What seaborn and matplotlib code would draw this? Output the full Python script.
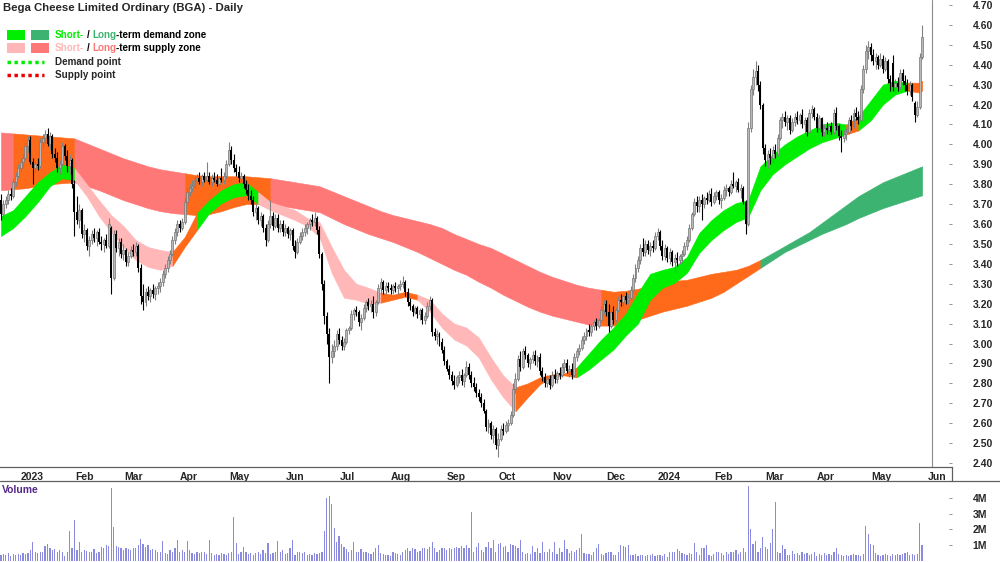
import numpy as np
import pandas as pd
import matplotlib.pyplot as plt
import seaborn as sns
from matplotlib.lines import Line2D
from matplotlib.patches import Rectangle
from matplotlib.transforms import ScaledTranslation

# ------------------------------------------------------------
# Daily candles, one list per month: (open, high, low, close)
# ------------------------------------------------------------
dec22 = [(3.72, 3.75, 3.62, 3.65), (3.65, 3.72, 3.63, 3.70), (3.70, 3.74, 3.68, 3.72), (3.72, 3.77, 3.70, 3.75),
         (3.75, 3.78, 3.72, 3.74), (3.74, 3.83, 3.73, 3.81), (3.81, 3.86, 3.79, 3.84)]
jan23 = [(3.84, 3.90, 3.83, 3.88), (3.88, 3.93, 3.86, 3.91), (3.91, 3.95, 3.88, 3.93), (3.93, 4.01, 3.92, 3.99),
         (3.99, 4.04, 3.96, 4.02), (4.02, 4.04, 3.90, 3.91), (3.91, 3.93, 3.80, 3.88), (3.88, 3.92, 3.86, 3.90),
         (3.90, 3.93, 3.87, 3.89), (3.89, 4.03, 3.88, 4.01), (4.01, 4.05, 3.98, 4.03), (4.03, 4.07, 4.00, 4.05),
         (4.05, 4.08, 3.99, 4.00), (4.00, 4.06, 3.97, 4.04), (4.04, 4.05, 3.93, 3.95), (3.95, 3.98, 3.91, 3.93),
         (3.93, 3.96, 3.86, 3.88), (3.88, 3.92, 3.85, 3.90), (3.90, 4.01, 3.89, 3.99), (3.99, 4.00, 3.92, 3.94),
         (3.94, 3.97, 3.86, 3.89), (3.89, 3.95, 3.85, 3.92)]
feb23 = [(3.92, 3.93, 3.78, 3.80), (3.80, 3.82, 3.54, 3.66), (3.66, 3.74, 3.60, 3.62), (3.62, 3.70, 3.58, 3.67),
         (3.67, 3.68, 3.53, 3.55), (3.55, 3.60, 3.51, 3.57), (3.57, 3.58, 3.47, 3.49), (3.49, 3.54, 3.44, 3.52),
         (3.52, 3.57, 3.50, 3.55), (3.55, 3.58, 3.51, 3.53), (3.53, 3.57, 3.49, 3.56), (3.56, 3.58, 3.50, 3.51),
         (3.51, 3.54, 3.47, 3.50), (3.50, 3.53, 3.46, 3.52), (3.52, 3.55, 3.48, 3.49), (3.49, 3.63, 3.48, 3.60),
         (3.58, 3.59, 3.25, 3.33), (3.33, 3.57, 3.32, 3.55), (3.55, 3.57, 3.46, 3.48), (3.48, 3.53, 3.44, 3.51)]
mar23 = [(3.51, 3.53, 3.43, 3.45), (3.45, 3.50, 3.42, 3.47), (3.47, 3.48, 3.39, 3.41), (3.41, 3.46, 3.39, 3.44),
         (3.44, 3.49, 3.43, 3.47), (3.47, 3.50, 3.44, 3.46), (3.46, 3.51, 3.44, 3.49), (3.49, 3.50, 3.36, 3.38),
         (3.38, 3.40, 3.20, 3.24), (3.24, 3.30, 3.17, 3.21), (3.21, 3.28, 3.19, 3.26), (3.26, 3.29, 3.22, 3.24),
         (3.24, 3.28, 3.21, 3.27), (3.27, 3.30, 3.23, 3.25), (3.25, 3.29, 3.22, 3.28), (3.28, 3.31, 3.25, 3.29),
         (3.29, 3.33, 3.26, 3.31), (3.31, 3.37, 3.29, 3.35), (3.35, 3.40, 3.33, 3.38), (3.38, 3.44, 3.36, 3.42),
         (3.42, 3.47, 3.40, 3.45), (3.45, 3.54, 3.44, 3.52), (3.52, 3.58, 3.50, 3.56)]
apr23 = [(3.56, 3.62, 3.54, 3.60), (3.60, 3.62, 3.56, 3.58), (3.58, 3.63, 3.57, 3.61), (3.61, 3.73, 3.60, 3.71),
         (3.71, 3.78, 3.70, 3.76), (3.76, 3.80, 3.74, 3.78), (3.78, 3.82, 3.76, 3.79), (3.79, 3.84, 3.78, 3.82),
         (3.82, 3.85, 3.80, 3.83), (3.83, 3.86, 3.80, 3.81), (3.81, 3.85, 3.79, 3.84), (3.84, 3.86, 3.81, 3.82),
         (3.82, 3.91, 3.81, 3.84), (3.84, 3.86, 3.80, 3.81), (3.81, 3.85, 3.79, 3.83), (3.83, 3.86, 3.81, 3.82),
         (3.82, 3.85, 3.79, 3.80), (3.80, 3.84, 3.78, 3.83), (3.83, 3.88, 3.81, 3.82), (3.82, 3.86, 3.80, 3.84)]
may23 = [(3.84, 3.92, 3.83, 3.90), (3.90, 4.01, 3.89, 3.97), (3.97, 3.99, 3.90, 3.92), (3.92, 3.95, 3.86, 3.88),
         (3.88, 3.90, 3.84, 3.86), (3.86, 3.89, 3.81, 3.83), (3.83, 3.86, 3.80, 3.84), (3.84, 3.85, 3.78, 3.80),
         (3.80, 3.82, 3.75, 3.77), (3.77, 3.80, 3.72, 3.74), (3.74, 3.77, 3.70, 3.72), (3.72, 3.74, 3.64, 3.66),
         (3.66, 3.70, 3.62, 3.68), (3.68, 3.69, 3.60, 3.62), (3.62, 3.66, 3.59, 3.64), (3.64, 3.65, 3.56, 3.58),
         (3.58, 3.60, 3.49, 3.52), (3.52, 3.62, 3.51, 3.60), (3.60, 3.72, 3.58, 3.64), (3.64, 3.66, 3.57, 3.59),
         (3.59, 3.65, 3.58, 3.63), (3.63, 3.65, 3.56, 3.58), (3.58, 3.62, 3.56, 3.60)]
jun23 = [(3.60, 3.62, 3.54, 3.56), (3.56, 3.60, 3.54, 3.58), (3.58, 3.59, 3.53, 3.55), (3.55, 3.58, 3.52, 3.57),
         (3.57, 3.58, 3.47, 3.49), (3.49, 3.52, 3.43, 3.46), (3.46, 3.53, 3.45, 3.51), (3.51, 3.56, 3.50, 3.54),
         (3.54, 3.58, 3.52, 3.56), (3.56, 3.60, 3.54, 3.58), (3.58, 3.61, 3.55, 3.60), (3.60, 3.63, 3.57, 3.62),
         (3.62, 3.65, 3.59, 3.61), (3.61, 3.66, 3.59, 3.63), (3.63, 3.64, 3.55, 3.57), (3.57, 3.59, 3.43, 3.45),
         (3.45, 3.46, 3.27, 3.30), (3.30, 3.32, 3.10, 3.14), (3.14, 3.16, 3.00, 3.05), (3.05, 3.08, 2.80, 2.93),
         (2.93, 3.00, 2.90, 2.96), (2.96, 3.02, 2.93, 2.99)]
jul23 = [(2.99, 3.07, 2.97, 3.05), (3.05, 3.08, 3.00, 3.02), (3.02, 3.04, 2.97, 2.99), (2.99, 3.03, 2.97, 3.01),
         (3.01, 3.08, 3.00, 3.07), (3.07, 3.09, 3.05, 3.08), (3.08, 3.17, 3.07, 3.15), (3.15, 3.18, 3.12, 3.17),
         (3.17, 3.19, 3.14, 3.16), (3.16, 3.17, 3.09, 3.11), (3.11, 3.15, 3.07, 3.13), (3.13, 3.20, 3.12, 3.18),
         (3.18, 3.22, 3.16, 3.21), (3.21, 3.23, 3.17, 3.19), (3.19, 3.22, 3.16, 3.20), (3.20, 3.24, 3.13, 3.16),
         (3.16, 3.22, 3.14, 3.21), (3.21, 3.30, 3.20, 3.28), (3.28, 3.33, 3.25, 3.31), (3.31, 3.32, 3.25, 3.27),
         (3.27, 3.31, 3.25, 3.29)]
aug23 = [(3.29, 3.31, 3.26, 3.28), (3.28, 3.30, 3.25, 3.27), (3.27, 3.30, 3.25, 3.29), (3.29, 3.31, 3.26, 3.28),
         (3.28, 3.30, 3.25, 3.29), (3.29, 3.32, 3.27, 3.30), (3.30, 3.34, 3.28, 3.31), (3.31, 3.32, 3.24, 3.26),
         (3.26, 3.28, 3.19, 3.21), (3.21, 3.23, 3.17, 3.19), (3.19, 3.20, 3.14, 3.16), (3.16, 3.19, 3.15, 3.18),
         (3.18, 3.19, 3.13, 3.15), (3.15, 3.18, 3.12, 3.17), (3.17, 3.18, 3.10, 3.12), (3.12, 3.16, 3.10, 3.14),
         (3.14, 3.21, 3.13, 3.19), (3.19, 3.24, 3.17, 3.22), (3.22, 3.23, 3.04, 3.06), (3.06, 3.08, 3.02, 3.04),
         (3.04, 3.07, 3.00, 3.05), (3.05, 3.06, 2.99, 3.01), (3.01, 3.03, 2.95, 2.97)]
sep23 = [(2.97, 2.99, 2.89, 2.91), (2.91, 2.92, 2.86, 2.87), (2.87, 2.89, 2.82, 2.84), (2.84, 2.86, 2.79, 2.81),
         (2.81, 2.84, 2.77, 2.79), (2.79, 2.84, 2.78, 2.83), (2.83, 2.86, 2.80, 2.84), (2.84, 2.87, 2.79, 2.81),
         (2.81, 2.85, 2.78, 2.84), (2.84, 2.91, 2.83, 2.88), (2.88, 2.90, 2.82, 2.84), (2.84, 2.86, 2.78, 2.80),
         (2.80, 2.83, 2.76, 2.78), (2.78, 2.80, 2.73, 2.75), (2.75, 2.77, 2.71, 2.73), (2.73, 2.75, 2.68, 2.70),
         (2.70, 2.72, 2.65, 2.66), (2.66, 2.67, 2.56, 2.58), (2.58, 2.62, 2.55, 2.60), (2.60, 2.61, 2.52, 2.54),
         (2.54, 2.59, 2.50, 2.57)]
oct23 = [(2.57, 2.58, 2.47, 2.49), (2.49, 2.55, 2.43, 2.52), (2.52, 2.59, 2.51, 2.57), (2.57, 2.60, 2.54, 2.56),
         (2.56, 2.61, 2.55, 2.59), (2.59, 2.62, 2.56, 2.60), (2.60, 2.66, 2.59, 2.64), (2.64, 2.80, 2.63, 2.77),
         (2.77, 2.85, 2.75, 2.82), (2.82, 2.94, 2.81, 2.92), (2.92, 2.96, 2.86, 2.88), (2.88, 2.98, 2.87, 2.96),
         (2.96, 2.99, 2.92, 2.94), (2.94, 2.95, 2.88, 2.90), (2.90, 2.93, 2.87, 2.92), (2.92, 2.96, 2.90, 2.94),
         (2.94, 2.97, 2.89, 2.91), (2.91, 2.94, 2.88, 2.93), (2.93, 2.95, 2.84, 2.86), (2.86, 2.88, 2.81, 2.83),
         (2.83, 2.85, 2.78, 2.80), (2.80, 2.84, 2.78, 2.82)]
nov23 = [(2.82, 2.84, 2.77, 2.79), (2.79, 2.86, 2.78, 2.84), (2.84, 2.87, 2.80, 2.82), (2.82, 2.86, 2.80, 2.85),
         (2.85, 2.88, 2.82, 2.84), (2.84, 2.90, 2.83, 2.88), (2.88, 2.92, 2.85, 2.90), (2.90, 2.92, 2.85, 2.86),
         (2.86, 2.89, 2.83, 2.87), (2.87, 2.90, 2.82, 2.84), (2.84, 2.95, 2.83, 2.93), (2.93, 2.98, 2.91, 2.96),
         (2.96, 3.00, 2.94, 2.98), (2.98, 3.04, 2.97, 3.02), (3.02, 3.06, 3.00, 3.04), (3.04, 3.08, 3.02, 3.07),
         (3.07, 3.10, 3.04, 3.06), (3.06, 3.10, 3.04, 3.09), (3.09, 3.12, 3.07, 3.11), (3.11, 3.13, 3.07, 3.09),
         (3.09, 3.13, 3.08, 3.12), (3.12, 3.19, 3.11, 3.17)]
dec23 = [(3.17, 3.22, 3.15, 3.20), (3.20, 3.22, 3.14, 3.16), (3.16, 3.20, 3.06, 3.09), (3.09, 3.18, 3.08, 3.16),
         (3.16, 3.19, 3.10, 3.12), (3.12, 3.18, 3.11, 3.17), (3.17, 3.24, 3.16, 3.22), (3.22, 3.25, 3.19, 3.21),
         (3.21, 3.25, 3.19, 3.24), (3.24, 3.26, 3.20, 3.22), (3.22, 3.25, 3.20, 3.23), (3.23, 3.29, 3.22, 3.27),
         (3.27, 3.35, 3.26, 3.33), (3.33, 3.40, 3.31, 3.38), (3.38, 3.44, 3.36, 3.42), (3.42, 3.50, 3.40, 3.48),
         (3.48, 3.53, 3.44, 3.46), (3.46, 3.52, 3.44, 3.50), (3.50, 3.52, 3.45, 3.47), (3.47, 3.51, 3.44, 3.49),
         (3.49, 3.52, 3.46, 3.48)]
jan24 = [(3.48, 3.56, 3.47, 3.54), (3.54, 3.58, 3.52, 3.56), (3.56, 3.57, 3.47, 3.49), (3.49, 3.52, 3.42, 3.44),
         (3.44, 3.50, 3.42, 3.48), (3.48, 3.49, 3.41, 3.43), (3.43, 3.48, 3.40, 3.46), (3.46, 3.47, 3.39, 3.41),
         (3.41, 3.45, 3.36, 3.43), (3.43, 3.46, 3.39, 3.42), (3.42, 3.45, 3.40, 3.44), (3.44, 3.47, 3.41, 3.45),
         (3.45, 3.51, 3.44, 3.49), (3.49, 3.54, 3.47, 3.52), (3.52, 3.60, 3.51, 3.58), (3.58, 3.66, 3.57, 3.65),
         (3.65, 3.73, 3.64, 3.71), (3.71, 3.74, 3.66, 3.69), (3.69, 3.74, 3.66, 3.72), (3.72, 3.75, 3.62, 3.70),
         (3.70, 3.74, 3.68, 3.73), (3.73, 3.76, 3.70, 3.72), (3.72, 3.77, 3.71, 3.75)]
feb24 = [(3.75, 3.78, 3.69, 3.71), (3.71, 3.76, 3.70, 3.74), (3.74, 3.77, 3.72, 3.76), (3.76, 3.77, 3.70, 3.72),
         (3.72, 3.75, 3.68, 3.73), (3.73, 3.79, 3.72, 3.77), (3.77, 3.80, 3.74, 3.78), (3.78, 3.79, 3.74, 3.76),
         (3.76, 3.82, 3.75, 3.80), (3.80, 3.86, 3.78, 3.79), (3.79, 3.82, 3.76, 3.81), (3.81, 3.83, 3.76, 3.77),
         (3.77, 3.80, 3.73, 3.78), (3.78, 3.79, 3.70, 3.71), (3.71, 3.72, 3.55, 3.60), (3.60, 4.11, 3.59, 4.08),
         (4.08, 4.30, 4.06, 4.28), (4.28, 4.38, 4.25, 4.34), (4.34, 4.42, 4.30, 4.37), (4.37, 4.40, 4.27, 4.30),
         (4.30, 4.32, 4.18, 4.20)]
mar24 = [(4.20, 4.21, 3.95, 3.98), (3.98, 4.00, 3.89, 3.92), (3.92, 3.97, 3.88, 3.95), (3.95, 3.98, 3.90, 3.93),
         (3.93, 3.99, 3.91, 3.97), (3.97, 4.00, 3.93, 3.95), (3.95, 4.05, 3.94, 4.03), (4.03, 4.14, 4.02, 4.12),
         (4.12, 4.16, 4.08, 4.14), (4.14, 4.17, 4.09, 4.11), (4.11, 4.15, 4.07, 4.13), (4.13, 4.15, 4.05, 4.07),
         (4.07, 4.13, 4.06, 4.11), (4.11, 4.16, 4.09, 4.14), (4.14, 4.17, 4.10, 4.12), (4.12, 4.16, 4.10, 4.15),
         (4.15, 4.18, 4.08, 4.10), (4.10, 4.14, 4.05, 4.12), (4.12, 4.14, 4.04, 4.06), (4.06, 4.18, 4.05, 4.16),
         (4.16, 4.20, 4.13, 4.18)]
apr24 = [(4.18, 4.19, 4.12, 4.14), (4.14, 4.16, 4.06, 4.08), (4.08, 4.15, 4.07, 4.13), (4.13, 4.14, 4.04, 4.06),
         (4.06, 4.10, 4.04, 4.08), (4.08, 4.11, 4.05, 4.07), (4.07, 4.10, 4.04, 4.09), (4.09, 4.11, 4.05, 4.06),
         (4.06, 4.18, 4.05, 4.16), (4.16, 4.19, 4.07, 4.09), (4.09, 4.10, 4.02, 4.04), (4.04, 4.07, 3.96, 4.03),
         (4.03, 4.07, 4.01, 4.05), (4.05, 4.08, 4.02, 4.06), (4.06, 4.14, 4.05, 4.12), (4.12, 4.15, 4.07, 4.09),
         (4.09, 4.18, 4.08, 4.16), (4.16, 4.19, 4.12, 4.14), (4.14, 4.17, 4.10, 4.12), (4.12, 4.30, 4.11, 4.28),
         (4.28, 4.40, 4.26, 4.38), (4.38, 4.50, 4.36, 4.47)]
may24 = [(4.47, 4.52, 4.43, 4.49), (4.49, 4.51, 4.42, 4.45), (4.45, 4.48, 4.40, 4.42), (4.42, 4.46, 4.38, 4.44),
         (4.44, 4.45, 4.38, 4.40), (4.40, 4.46, 4.39, 4.43), (4.43, 4.45, 4.36, 4.38), (4.38, 4.44, 4.37, 4.42),
         (4.42, 4.43, 4.31, 4.33), (4.33, 4.35, 4.27, 4.31), (4.41, 4.45, 4.27, 4.29), (4.29, 4.33, 4.26, 4.31),
         (4.31, 4.34, 4.27, 4.29), (4.29, 4.38, 4.28, 4.36), (4.36, 4.38, 4.30, 4.32), (4.32, 4.35, 4.27, 4.30),
         (4.30, 4.33, 4.25, 4.27), (4.27, 4.32, 4.25, 4.30), (4.30, 4.31, 4.22, 4.24), (4.21, 4.22, 4.11, 4.15),
         (4.15, 4.22, 4.14, 4.19), (4.19, 4.46, 4.18, 4.44), (4.44, 4.60, 4.43, 4.54)]

months = [dec22, jan23, feb23, mar23, apr23, may23, jun23, jul23, aug23, sep23,
          oct23, nov23, dec23, jan24, feb24, mar24, apr24, may24]
month_labels = ["", "2023", "Feb", "Mar", "Apr", "May", "Jun", "Jul", "Aug", "Sep",
                "Oct", "Nov", "Dec", "2024", "Feb", "Mar", "Apr", "May"]
next_label = "Jun"

# daily volume (millions), one list per month
vol_months = [
    [0.35, 0.45, 0.40, 0.50, 0.30, 0.45, 0.40],
    [0.45, 0.40, 0.50, 0.45, 0.50, 0.70, 1.20, 0.55, 0.50, 0.55, 0.60, 0.95, 1.10, 0.80, 0.70, 0.75, 0.60, 0.70,
     0.55, 0.30, 0.60, 1.90],
    [0.80, 2.60, 0.70, 1.20, 0.60, 0.70, 0.65, 0.60, 0.55, 0.75, 0.50, 0.60, 0.90, 0.80, 1.00, 0.95, 4.60, 2.15,
     0.95, 0.90],
    [0.85, 0.70, 0.80, 0.75, 0.70, 0.85, 0.80, 1.00, 1.40, 1.10, 0.90, 1.00, 0.70, 0.75, 0.70, 0.60, 0.55, 1.25,
     0.50, 0.45, 0.70, 0.60, 0.80],
    [1.30, 0.55, 0.70, 0.60, 1.25, 0.70, 0.50, 0.45, 0.60, 0.50, 0.55, 0.60, 0.45, 1.30, 0.50, 0.35, 0.45, 0.40,
     0.50, 0.45],
    [0.35, 0.50, 0.55, 2.80, 1.15, 0.45, 0.60, 0.90, 0.55, 0.45, 0.50, 0.40, 0.50, 0.60, 0.45, 0.70, 0.50, 1.15,
     0.45, 0.50, 0.55, 1.25, 0.60],
    [0.70, 0.45, 0.50, 0.80, 1.30, 0.40, 0.60, 0.55, 0.50, 0.55, 0.40, 0.45, 0.40, 0.50, 0.45, 0.50, 0.55, 1.90,
     4.00, 4.10, 3.60, 2.10],
    [1.20, 1.60, 1.05, 0.90, 0.75, 0.60, 0.70, 1.20, 0.55, 0.60, 0.75, 0.55, 0.60, 0.50, 0.45, 0.60, 0.80, 1.00,
     0.50, 0.45, 0.35],
    [0.40, 0.30, 0.55, 0.50, 0.45, 0.35, 0.60, 0.70, 0.80, 0.65, 0.80, 0.75, 0.60, 0.65, 0.85, 0.80, 0.75, 0.90,
     1.20, 0.80, 0.60, 0.70, 0.80],
    [0.85, 0.70, 0.80, 0.75, 0.85, 0.90, 0.80, 0.95, 0.85, 1.00, 0.80, 3.10, 0.60, 0.90, 1.15, 0.70, 0.55, 0.90,
     1.20, 0.85, 1.30],
    [0.60, 1.05, 1.15, 0.90, 0.95, 0.60, 1.05, 1.00, 0.95, 0.80, 1.30, 0.55, 0.45, 0.50, 0.45, 0.95, 0.60, 0.85,
     0.50, 1.20, 0.55, 0.60],
    [0.75, 0.55, 1.20, 0.45, 0.85, 0.60, 1.30, 0.75, 0.50, 0.65, 0.55, 0.70, 0.85, 1.70, 0.50, 0.45, 0.45, 0.40,
     0.55, 0.85, 1.05, 0.45],
    [0.40, 0.50, 0.55, 0.60, 0.40, 0.35, 0.55, 1.00, 0.95, 0.90, 1.00, 0.40, 0.35, 0.45, 0.30, 0.40, 0.35, 0.30,
     0.40, 0.35, 0.45],
    [0.30, 0.40, 0.35, 0.30, 0.45, 0.25, 0.55, 0.60, 0.55, 0.75, 0.65, 0.50, 0.45, 0.40, 0.50, 0.45, 1.15, 0.55,
     0.40, 0.80, 0.85, 1.00, 0.40],
    [0.30, 0.45, 0.55, 0.60, 0.50, 0.35, 0.60, 0.45, 0.55, 0.60, 0.70, 0.45, 0.60, 0.80, 0.55, 4.75, 2.00, 1.10,
     1.25, 0.60, 0.80],
    [1.50, 0.90, 0.75, 1.15, 2.00, 3.75, 0.55, 0.50, 1.00, 0.75, 0.40, 0.35, 0.65, 0.45, 0.50, 0.40, 0.55, 0.45,
     0.50, 0.35, 0.45],
    [0.55, 0.30, 0.45, 0.40, 0.50, 0.35, 0.45, 0.40, 0.60, 0.80, 0.45, 0.35, 0.30, 0.40, 0.30, 0.35, 0.45, 0.40,
     0.35, 0.30, 0.45, 2.20],
    [1.70, 1.10, 1.00, 0.50, 0.40, 0.30, 0.35, 0.45, 0.40, 0.30, 0.45, 0.40, 0.45, 0.40, 0.45, 0.50, 0.60, 0.35,
     0.45, 0.40, 0.45, 2.40, 1.00],
]

# ------------------------------------------------------------
# Zones, sampled every 5 trading days (last point = last day)
# state per sample: D = demand, S = supply, N = overlap (orange)
# ------------------------------------------------------------
band_days = list(range(0, 376, 5)) + [376]

short_lo = [3.54, 3.58, 3.64, 3.71, 3.79, 3.83, 3.82, 3.74, 3.64, 3.56, 3.485, 3.42, 3.385, 3.37, 3.39, 3.485,
            3.57, 3.655, 3.705, 3.735, 3.745, 3.70, 3.67, 3.645, 3.62, 3.59, 3.535, 3.355, 3.23, 3.22, 3.20,
            3.205, 3.22, 3.235, 3.22, 3.16, 3.08, 3.02, 2.99, 2.93, 2.82, 2.73, 2.66, 2.73, 2.795, 2.835, 2.84,
            2.83, 2.87, 2.92, 2.97, 3.04, 3.10, 3.22, 3.28, 3.305, 3.355, 3.455, 3.52, 3.57, 3.61, 3.635, 3.77,
            3.85, 3.90, 3.94, 3.98, 4.01, 4.03, 4.05, 4.07, 4.12, 4.20, 4.25, 4.27, 4.26, 4.27]
short_hi = [3.64, 3.67, 3.74, 3.81, 3.86, 3.90, 3.88, 3.80, 3.72, 3.645, 3.59, 3.52, 3.485, 3.47, 3.46, 3.535,
            3.655, 3.72, 3.77, 3.80, 3.81, 3.76, 3.71, 3.69, 3.67, 3.63, 3.61, 3.485, 3.37, 3.30, 3.28,
            3.255, 3.245, 3.26, 3.245, 3.22, 3.15, 3.10, 3.08, 3.03, 2.93, 2.84, 2.78, 2.80, 2.83, 2.845, 2.85,
            2.88, 2.95, 3.02, 3.08, 3.15, 3.255, 3.35, 3.37, 3.385, 3.435, 3.555, 3.62, 3.67, 3.705, 3.72, 3.89,
            3.95, 4.00, 4.04, 4.07, 4.10, 4.11, 4.10, 4.14, 4.22, 4.30, 4.32, 4.31, 4.31, 4.32]
short_state = "DDDDDD" + "SSSSSSSS" + "NN" + "DDDDD" + "SSSSSSSSSS" + "NNN" + "SSSSSSSS" + "NNNNN" \
              + "DDDDDDDDDDDDDDDDDDDDDD" + "N" + "DDDD" + "NNN"

long_lo = [3.77, 3.775, 3.78, 3.79, 3.80, 3.805, 3.81, 3.79, 3.77, 3.745, 3.72, 3.70, 3.68, 3.665, 3.655, 3.65,
           3.645, 3.65, 3.665, 3.685, 3.70, 3.70, 3.70, 3.69, 3.68, 3.67, 3.66, 3.63, 3.60, 3.575, 3.55, 3.53,
           3.51, 3.485, 3.46, 3.43, 3.40, 3.37, 3.345, 3.31, 3.28, 3.245, 3.215, 3.185, 3.16, 3.14, 3.125, 3.11,
           3.095, 3.09, 3.09, 3.10, 3.12, 3.14, 3.16, 3.175, 3.19, 3.21, 3.23, 3.26, 3.30, 3.34, 3.38, 3.42,
           3.46, 3.49, 3.52, 3.55, 3.575, 3.60, 3.63, 3.655, 3.68, 3.70, 3.72, 3.74, 3.745]
long_hi = [4.06, 4.055, 4.05, 4.045, 4.04, 4.035, 4.03, 4.005, 3.98, 3.955, 3.93, 3.91, 3.89, 3.875, 3.865, 3.855,
           3.845, 3.84, 3.84, 3.84, 3.84, 3.835, 3.83, 3.82, 3.81, 3.80, 3.79, 3.765, 3.74, 3.715, 3.69, 3.665,
           3.645, 3.63, 3.615, 3.60, 3.58, 3.55, 3.525, 3.50, 3.48, 3.45, 3.42, 3.39, 3.36, 3.335, 3.315, 3.295,
           3.28, 3.27, 3.26, 3.265, 3.275, 3.29, 3.305, 3.315, 3.32, 3.335, 3.35, 3.36, 3.37, 3.39, 3.42, 3.455,
           3.49, 3.525, 3.56, 3.605, 3.65, 3.695, 3.74, 3.775, 3.81, 3.835, 3.86, 3.885, 3.89]
long_state = "S" + "NNNNN" + "SSSSSSSSS" + "NNNNNNN" + "SSSSSSSSSSSSSSSSSSSSSSSSSSS" + "NNNNNNNNNNNNN" \
             + "DDDDDDDDDDDDDDD"

ORANGE = "#ff6a1a"
short_colors = {"D": "#00ee00", "S": "#ffb7b7", "N": ORANGE}
long_colors = {"D": "#3cb371", "S": "#ff7878", "N": ORANGE}

# price axis labels
price_ticks = [2.4, 2.5, 2.6, 2.7, 2.8, 2.9, 3.0, 3.1, 3.2, 3.3, 3.4, 3.5, 3.6, 3.7, 3.8, 3.9,
               4.0, 4.1, 4.2, 4.3, 4.4, 4.5, 4.6, 4.7]
vol_ticks = [1e6, 2e6, 3e6, 4e6]

# ------------------------------------------------------------
# Tables
# ------------------------------------------------------------
rows, vrows, month_starts = [], [], []
start = 0
for chunk, vchunk in zip(months, vol_months):
    month_starts.append(start)
    for k, (o, h, l, c) in enumerate(chunk):
        rows.append((start + k, o, h, l, c))
    for k, v in enumerate(vchunk):
        vrows.append((start + k, v * 1e6))
    start += len(chunk)
df = pd.DataFrame(rows, columns=["day", "open", "high", "low", "close"])
vdf = pd.DataFrame(vrows, columns=["day", "vol"])

# ------------------------------------------------------------
# Figure
# ------------------------------------------------------------
sns.set_theme(style="white")
plt.rcParams["font.family"] = ["Liberation Sans", "DejaVu Sans"]
FS = 7.5
W, H = 1000, 562


def fx(px):
    return px / W


def fy(py):
    return 1 - py / H


fig = plt.figure(figsize=(10, 5.62), dpi=100)
ax = fig.add_axes([0, fy(467), 0.952, 467 / H])
axv = fig.add_axes([0, 0, 0.952, 81 / H])
XLIM = (-0.4, 388.2)


def fill_band(axis, lo, hi, states, colors, z):
    x = np.array(band_days)
    lo = np.array(lo)
    hi = np.array(hi)
    n = len(states) - 1
    k = 0
    while k < n:
        j = k
        while j + 1 < n and states[j + 1] == states[k]:
            j += 1
        sl = slice(k, j + 2)
        col = colors[states[k]]
        axis.fill_between(x[sl], lo[sl], hi[sl], facecolor=col, edgecolor=col, lw=0.4, zorder=z)
        k = j + 1


fill_band(ax, long_lo, long_hi, long_state, long_colors, 1)
fill_band(ax, short_lo, short_hi, short_state, short_colors, 2)

# candles
up = df[df["close"] >= df["open"]]
dn = df[df["close"] < df["open"]]
ax.vlines(up["day"], up["low"], up["high"], color="#808080", lw=0.8, zorder=3)
ax.vlines(dn["day"], dn["low"], dn["high"], color="black", lw=0.8, zorder=3)
ax.bar(up["day"], (up["close"] - up["open"]).clip(lower=0.006), bottom=up["open"], width=0.8,
       color="#b8b8b8", edgecolor="#777777", lw=0.5, zorder=4)
ax.bar(dn["day"], dn["open"] - dn["close"], bottom=dn["close"], width=0.8, color="black", lw=0, zorder=4)

ax.axvline(380.0, color="#8c8c8c", lw=0.8, zorder=5)
ax.set_xlim(*XLIM)
ax.set_ylim(2.38, 4.725)

ax.yaxis.tick_right()
ax.set_yticks(price_ticks)
ax.set_yticklabels([f"{v:.2f}" for v in price_ticks], fontsize=FS, fontweight="bold")
ax.tick_params(axis="y", direction="in", length=2, width=0.6, color="#808080", pad=15)

xt = month_starts[1:] + [start]
ax.set_xticks(xt, labels=month_labels[1:] + [next_label], fontsize=FS, fontweight="bold", ha="left")
ax.tick_params(axis="x", direction="out", length=3, width=0.6, color="#606060", pad=0.5)
shift = ScaledTranslation(2 / 72, 0, fig.dpi_scale_trans)
for lbl in ax.get_xticklabels():
    lbl.set_transform(lbl.get_transform() + shift)

for side in ["top", "left", "right"]:
    ax.spines[side].set_visible(False)
ax.spines["bottom"].set_color("#606060")
ax.spines["bottom"].set_linewidth(0.9)
ax.set_xlabel("")
ax.set_ylabel("")

# volume
sns.barplot(data=vdf, x="day", y="vol", native_scale=True, color="#8a8ade", saturation=1,
            width=0.5, linewidth=0, errorbar=None, ax=axv)
axv.set_xlim(*XLIM)
axv.set_ylim(-0.063e6, 5.07e6)
axv.set_xticks([])
axv.yaxis.tick_right()
axv.set_yticks(vol_ticks, labels=[f"{int(v / 1e6)}M" for v in vol_ticks], fontsize=FS, fontweight="bold")
axv.tick_params(axis="y", direction="in", length=2, width=0.6, color="#808080", pad=15)
for side in axv.spines:
    axv.spines[side].set_visible(False)
axv.set_xlabel("")
axv.set_ylabel("")
axv.patch.set_alpha(0)

fig.add_artist(Line2D([0, 1], [fy(481), fy(481)], color="#606060", lw=0.9))
fig.add_artist(Line2D([fx(952), fx(952)], [fy(467), fy(481)], color="#606060", lw=0.9))
fig.text(fx(2), fy(490), "Volume", color="#55288a", fontsize=FS, fontweight="bold", va="center", ha="left")

# title and legend
fig.text(fx(3), fy(8), "Bega Cheese Limited Ordinary (BGA) - Daily", fontsize=8.2, fontweight="bold",
         va="center", ha="left")

legend_boxes = [(7, 30, short_colors["D"]), (31, 30, long_colors["D"]),
                (7, 43, short_colors["S"]), (31, 43, long_colors["S"])]
for x0, y0, col in legend_boxes:
    fig.add_artist(Rectangle((fx(x0), fy(y0 + 10)), 18 / W, 10 / H, transform=fig.transFigure,
                             facecolor=col, edgecolor="none"))
fig.add_artist(Line2D([fx(7), fx(44)], [fy(62), fy(62)], color="#00ee00", lw=2.5, ls=(0, (1, 1))))
fig.add_artist(Line2D([fx(7), fx(44)], [fy(75), fy(75)], color="#ee0000", lw=2.5, ls=(0, (1, 1))))

LFS = 7.1


def colored_line(x_px, y_px, pieces):
    txt, col, gap = pieces[0]
    prev = fig.text(fx(x_px), fy(y_px), txt, color=col, fontsize=LFS, fontweight="bold", va="center", ha="left")
    for txt, col, gap in pieces[1:]:
        prev = ax.annotate(txt, xy=(1, 0), xycoords=prev, xytext=(gap, 0), textcoords="offset points",
                           ha="left", va="bottom", color=col, fontsize=LFS, fontweight="bold",
                           annotation_clip=False)


colored_line(55, 35, [("Short-", short_colors["D"], 0), ("/", "black", 2.0), ("Long", long_colors["D"], 2.0),
                      ("-term demand zone", "black", 0)])
colored_line(55, 48, [("Short-", short_colors["S"], 0), ("/", "black", 2.0), ("Long", long_colors["S"], 2.0),
                      ("-term supply zone", "black", 0)])
fig.text(fx(55), fy(62), "Demand point", fontsize=LFS, fontweight="bold", va="center", ha="left")
fig.text(fx(55), fy(75), "Supply point", fontsize=LFS, fontweight="bold", va="center", ha="left")

fig.savefig("out.png", dpi=100)
